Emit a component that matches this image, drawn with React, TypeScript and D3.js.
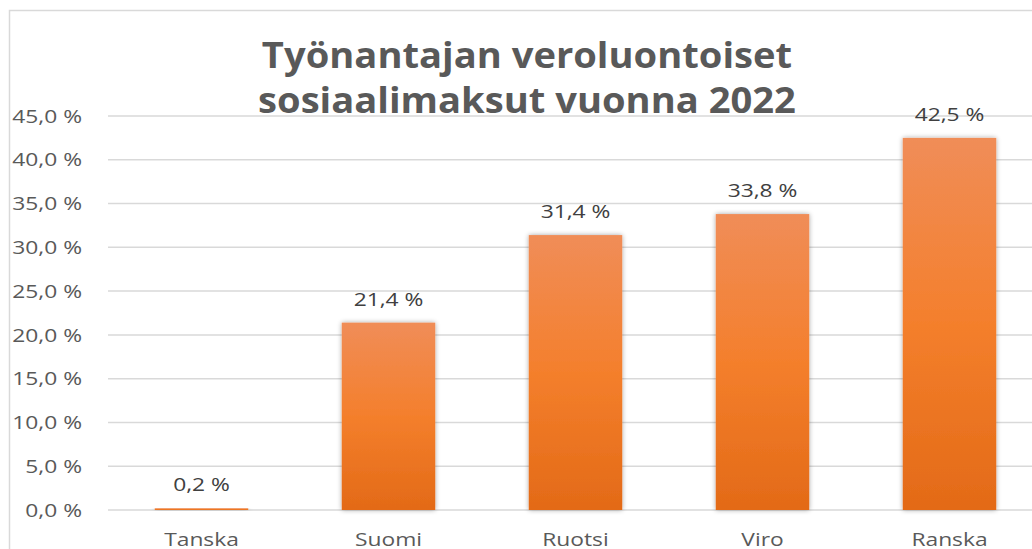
import React from "react";
import * as d3 from "d3";

const categories = ["Tanska", "Suomi", "Ruotsi", "Viro", "Ranska"];
const values = [0.2, 21.4, 31.4, 33.8, 42.5];
const yTicks = [0, 5, 10, 15, 20, 25, 30, 35, 40, 45];
const titleLines = ["Työnantajan veroluontoiset", "sosiaalimaksut vuonna 2022"];

const W = 1032;
const H = 549;

const fmt = (v: number, d: number) => v.toFixed(d).replace(".", ",") + " %";

const font = "'Open Sans', 'Noto Sans', sans-serif";
const SX = 1.2;

function SText(props: {
  x: number;
  y: number;
  anchor: "start" | "middle" | "end";
  size: number;
  fill: string;
  sx?: number;
  weight?: number;
  dy?: string;
  children: React.ReactNode;
}) {
  const sx = props.sx ?? SX;
  return (
    <g transform={`translate(${props.x},${props.y}) scale(${sx},1)`}>
      <text
        x={0}
        y={0}
        dy={props.dy}
        textAnchor={props.anchor}
        fontFamily={font}
        fontSize={props.size}
        fontWeight={props.weight ?? 400}
        fill={props.fill}
      >
        {props.children}
      </text>
    </g>
  );
}

export default function App() {
  const x = d3
    .scaleBand<string>()
    .domain(categories)
    .range([108, 1043])
    .paddingInner(0.5)
    .paddingOuter(0.25);
  const y = d3.scaleLinear().domain([0, 45]).range([510, 116]);

  return (
    <svg
      width={W}
      height={H}
      style={{ position: "absolute", left: 0, top: 0, background: "#fff" }}
    >
      <defs>
        <linearGradient id="barGrad" x1="0" y1="0" x2="0" y2="1">
          <stop offset="0%" stopColor="#F08D58" />
          <stop offset="50%" stopColor="#F47F2C" />
          <stop offset="100%" stopColor="#E36A17" />
        </linearGradient>
        <filter id="shadow" x="-20%" y="-5%" width="140%" height="110%">
          <feGaussianBlur in="SourceAlpha" stdDeviation="2.5" />
          <feComponentTransfer>
            <feFuncA type="linear" slope="0.35" />
          </feComponentTransfer>
          <feMerge>
            <feMergeNode />
            <feMergeNode in="SourceGraphic" />
          </feMerge>
        </filter>
      </defs>
      <rect x={9.5} y={10.5} width={W + 20} height={H + 20} fill="#fff" stroke="#d9d9d9" strokeWidth={1.5} />
      {yTicks.map((t) => (
        <g key={t}>
          <line x1={108} x2={W} y1={y(t)} y2={y(t)} stroke="#d9d9d9" strokeWidth={1.5} />
          <SText x={82} y={y(t)} dy="0.35em" anchor="end" size={19} fill="#595959">
            {fmt(t, 1)}
          </SText>
        </g>
      ))}
      {titleLines.map((l, i) => (
        <SText
          key={l}
          x={527}
          y={68 + i * 45}
          anchor="middle"
          size={36}
          weight={700}
          sx={1.06}
          fill="#595959"
        >
          {l}
        </SText>
      ))}
      {categories.map((c, i) => {
        const bx = x(c)!;
        const bw = x.bandwidth();
        const top = y(values[i]);
        return (
          <g key={c}>
            <rect
              x={bx}
              y={top}
              width={bw}
              height={y(0) - top}
              fill="url(#barGrad)"
              filter="url(#shadow)"
            />
            <SText x={bx + bw / 2} y={top - 17} anchor="middle" size={19} fill="#404040">
              {fmt(values[i], 1)}
            </SText>
            <SText x={bx + bw / 2} y={546} anchor="middle" size={19} fill="#595959">
              {c}
            </SText>
          </g>
        );
      })}
    </svg>
  );
}
